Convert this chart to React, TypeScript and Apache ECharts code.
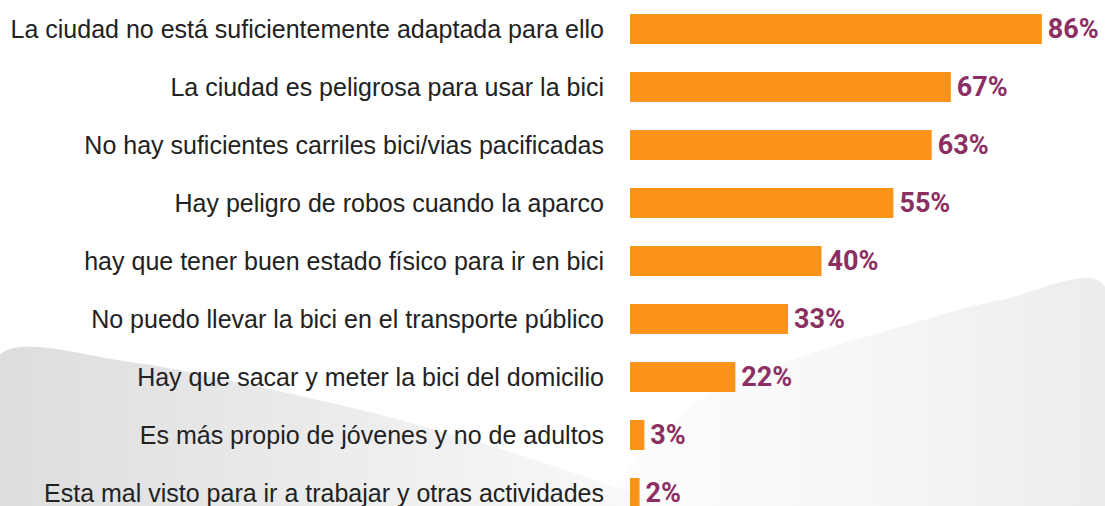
import React, { useEffect, useRef } from "react";
import * as echarts from "echarts";

const categories = [
  "La ciudad no está suficientemente adaptada para ello",
  "La ciudad es peligrosa para usar la bici",
  "No hay suficientes carriles bici/vias pacificadas",
  "Hay peligro de robos cuando la aparco",
  "hay que tener buen estado físico para ir en bici",
  "No puedo llevar la bici en el transporte público",
  "Hay que sacar y meter la bici del domicilio",
  "Es más propio de jóvenes y no de adultos",
  "Esta mal visto para ir a trabajar y otras actividades",
];
const values = [86, 67, 63, 55, 40, 33, 22, 3, 2];

export default function App() {
  const ref = useRef<HTMLDivElement>(null);
  useEffect(() => {
    document.body.style.margin = "0";
    const chart = echarts.init(ref.current!, null, { renderer: "svg" });
    chart.setOption({
      animation: false,
      backgroundColor: "#ffffff",
      graphic: [
        {
          type: "polygon",
          z: -10,
          silent: true,
          shape: {
            points: [[620, 506], [700, 400], [800, 357], [900, 327], [1000, 300], [1105, 287], [1105, 506]],
            smooth: 0.35,
          },
          style: {
            fill: new echarts.graphic.LinearGradient(0, 0, 1, 0, [
              { offset: 0, color: "#fdfdfd" },
              { offset: 0.5, color: "#f6f6f6" },
              { offset: 1, color: "#ebebeb" },
            ]),
          },
        },
        {
          type: "polygon",
          z: -9,
          silent: true,
          shape: {
            points: [[0, 355], [130, 362], [250, 385], [400, 420], [550, 465], [650, 506], [0, 506]],
            smooth: 0.3,
          },
          style: {
            fill: new echarts.graphic.LinearGradient(0, 0, 1, 0, [
              { offset: 0, color: "#dcdcdc" },
              { offset: 0.6, color: "#eeeeee" },
              { offset: 1, color: "#fafafa" },
            ]),
          },
        },
      ],
      grid: { left: 630, top: 0, width: 431, height: 522, containLabel: false },
      xAxis: { type: "value", min: 0, max: 90, show: false },
      yAxis: {
        type: "category",
        data: categories,
        inverse: true,
        axisLine: { show: false },
        axisTick: { show: false },
        axisLabel: {
          margin: 26,
          fontFamily: "Liberation Sans",
          fontSize: 25,
          color: "#222222",
        },
      },
      series: [
        {
          type: "bar",
          data: values,
          barWidth: 30,
          itemStyle: { color: "#fb9318" },
          label: {
            show: true,
            position: "right",
            distance: 6,
            formatter: "{c}%",
            fontFamily: "Roboto",
            fontWeight: "bold",
            fontSize: 27,
            color: "#8c2f63",
          },
        },
      ],
    });
    return () => chart.dispose();
  }, []);
  return <div ref={ref} style={{ position: "fixed", left: 0, top: 0, width: 1105, height: 540 }} />;
}
